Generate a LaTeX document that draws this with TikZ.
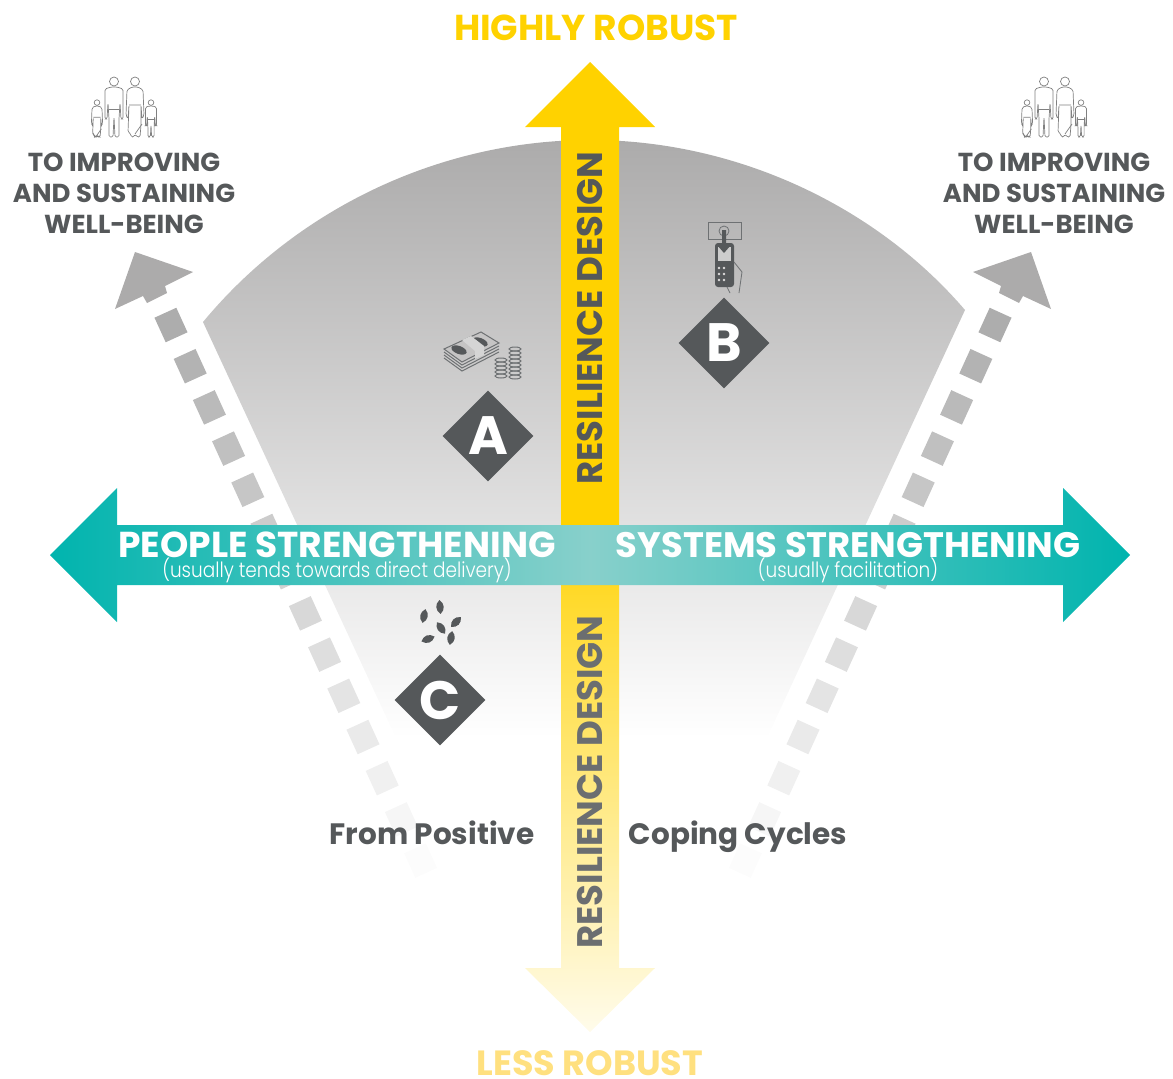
\documentclass[tikz,border=0pt]{standalone}
\usepackage{fontspec}
\usepackage{xcolor}
\usetikzlibrary{shapes.geometric}
\setmainfont{Poppins}
\newfontfamily\lightfont{Poppins Light}[FakeStretch=0.88]
\definecolor{slategray}{HTML}{55585A}
\definecolor{fadegray}{HTML}{6B6E70}
\definecolor{headgray}{HTML}{ACABAB}
\definecolor{robustyellow}{HTML}{FFD200}
\definecolor{paleyellow}{HTML}{FFE07F}
\definecolor{bandteal}{HTML}{00B4AE}
\definecolor{bandlight}{HTML}{88D0CB}
\tikzset{
    dashbox/.style={draw=none,rectangle,minimum width=24pt,minimum height=27pt,inner sep=0pt},
    markbox/.style={diamond,fill=slategray,text=white,minimum size=91pt,inner sep=0pt,aspect=1,font=\fontsize{54}{54}\selectfont\bfseries},
    goaltext/.style={align=center,text=slategray,font=\fontsize{26}{31}\selectfont\bfseries},
    axistext/.style={text=white,anchor=base,font=\fontsize{36}{36}\selectfont\bfseries},
    subtext/.style={text=white,font=\fontsize{21}{21}\selectfont\lightfont},
    designtext/.style={rotate=90,font=\fontsize{35.5}{36}\selectfont\bfseries},
    cycletext/.style={text=slategray,anchor=base,font=\fontsize{29.5}{31}\selectfont\bfseries},
    robusttext/.style={anchor=base,font=\fontsize{36}{36}\selectfont\bfseries},
    pics/grownman/.style={code={
        \draw[line width=.7pt,draw=gray] (0,-55.5) circle (4.5);
        \draw[line width=.7pt,draw=gray,rounded corners=1.5pt] (-3,-50) -- (-9,-48) -- (-9,-18) -- (-7,-18) -- (-6,-34) -- (-5,-18) -- (-5,0) -- (-1,0) -- (0,-20) -- (1,0) -- (5,0) -- (5,-18) -- (6,-34) -- (7,-18) -- (9,-18) -- (9,-48) -- (3,-50) -- cycle;
        \draw[line width=.7pt,draw=gray] (-5,-28) -- (5,-28);
    }},
    pics/grownwoman/.style={code={
        \draw[line width=.7pt,draw=gray] (0,-55.5) circle (4.5);
        \draw[line width=.7pt,draw=gray,rounded corners=1.5pt] (-3,-50) -- (-8,-47) -- (-9,-22) -- (-7,-18) -- (-6,-32) -- (-7,-5) -- (-4,-3) -- (-4,0) -- (-1,0) -- (0,-3) -- (2,0) -- (5,0) -- (6,-12) -- (6,-32) -- (7,-18) -- (9,-22) -- (8,-47) -- (3,-50) -- cycle;
        \draw[line width=.7pt,draw=gray] (-6,-32) -- (6,-32) (0,-3) -- (7,-13);
    }},
    pics/family/.style={code={
        \pic[scale=.62] at (-27,0) {grownwoman};
        \pic at (-10,0) {grownman};
        \pic at (11,0) {grownwoman};
        \pic[scale=.62] at (27,0) {grownman};
    }},
    pics/seedleaf/.style={code={
        \fill[slategray] (0,-7) .. controls (5,-3) and (5,3) .. (0,7) .. controls (-5,3) and (-5,-3) .. (0,-7) -- cycle;
    }},
}
\begin{document}
\begin{tikzpicture}[x=1pt,y=-1pt]
    \useasboundingbox (0,0) rectangle (1173,1079);
    % Fading wedge behind everything
    \shade[top color=headgray,bottom color=white] (203,322) .. controls (300,205) and (445,140) .. (590,140) .. controls (735,140) and (875,205) .. (965,310) -- (767,738) -- (396,738) -- cycle;
    % Dashed stems of the two side arrows
    \foreach \k in {0,...,13}{
        \pgfmathsetmacro\dashgray{32-31*\k/13}
        \node[dashbox,rotate=24.5,fill=black!\dashgray] (ldash\k) at ({171+19.2*\k},{325+41.2*\k}) {};
        \node[dashbox,rotate=-24.5,fill=black!\dashgray] (rdash\k) at ({995-19.2*\k},{325+41.2*\k}) {};
    }
    % Side arrow heads
    \fill[headgray] (135,252) -- (193,272) -- (165,286) -- (167,293) -- (147,303) -- (143,296) -- (115,309) -- cycle;
    \fill[headgray] (1031,252) -- (973,272) -- (1001,286) -- (999,293) -- (1019,303) -- (1023,296) -- (1051,309) -- cycle;
    % Vertical arrow, upper and lower half
    \fill[robustyellow] (561,527) -- (561,127) -- (525,127) -- (590,62) -- (655,127) -- (619,127) -- (619,527) -- cycle;
    \shade[top color=robustyellow!85!white,bottom color=robustyellow!8!white] (561,585) -- (561,968) -- (525,968) -- (590,1032) -- (655,968) -- (619,968) -- (619,585) -- cycle;
    % Horizontal arrow
    \shade[left color=bandteal,right color=bandteal,middle color=bandlight] (50,555) -- (117,488) -- (117,525) -- (1063,525) -- (1063,488) -- (1130,555) -- (1063,622) -- (1063,585) -- (117,585) -- (117,622) -- cycle;
    % Labels
    \node[robusttext,text=robustyellow] (hightext) at (596,40) {HIGHLY ROBUST};
    \node[robusttext,text=paleyellow,font=\fontsize{35}{35}\selectfont\bfseries] (lowtext) at (590,1075) {LESS ROBUST};
    \node[goaltext] (goalleft) at (124,193) {TO IMPROVING\\AND SUSTAINING\\WELL-BEING};
    \node[goaltext] (goalright) at (1054,193) {TO IMPROVING\\AND SUSTAINING\\WELL-BEING};
    \node[designtext,text=slategray] (designup) at (590,318) {RESILIENCE DESIGN};
    \node[designtext,text=fadegray] (designdown) at (590,782) {RESILIENCE DESIGN};
    \node[axistext] (peopletext) at (337,557) {PEOPLE STRENGTHENING};
    \node[axistext,font=\fontsize{35.4}{36}\selectfont\bfseries] (systemstext) at (848,557) {SYSTEMS STRENGTHENING};
    \node[subtext] (peoplesub) at (337,570) {(usually tends towards direct delivery)};
    \node[subtext] (systemssub) at (848,570) {(usually facilitation)};
    \node[cycletext] (fromtext) at (432,844) {From Positive};
    \node[cycletext] (copingtext) at (738,844) {Coping Cycles};
    % Diamonds
    \node[markbox] (marka) at (488,436) {A};
    \node[markbox] (markb) at (724,343) {B};
    \node[markbox] (markc) at (440,700) {C};
    % Families
    \pic at (124,137) {family};
    \pic at (1054,137) {family};
    % Money icon
    \foreach \dy in {9,6,3}{
        \draw[slategray!85,line width=1pt] (444,{349+\dy}) -- (462,{362+\dy}) -- (499,{343+\dy});
    }
    \draw[slategray!85,line width=1pt,fill=headgray!70] (444,349) -- (481,332) -- (499,343) -- (462,362) -- cycle;
    \fill[slategray,rotate around={-20:(459,350)}] (459,350) ellipse (8 and 4);
    \fill[slategray,rotate around={-20:(480,342)}] (480,342) ellipse (8 and 4);
    \fill[headgray!50] (462,340) -- (471,336) -- (484,346) -- (484,355) -- (475,359) -- (475,351) -- cycle;
    \foreach \cy in {360,364,368,372,376}{
        \draw[slategray!85,line width=1pt] (501,\cy) ellipse (6 and 2);
    }
    \foreach \cy in {349,353,357,361,365,369,373,377}{
        \draw[slategray!85,line width=1pt] (515,\cy) ellipse (6 and 2);
    }
    % Phone icon
    \draw[slategray!85,line width=.8pt] (708,222) rectangle (741,239);
    \draw[slategray!85,line width=.8pt] (724,231) circle (5);
    \fill[slategray,rounded corners=3pt] (715,243) rectangle (734,287);
    \fill[headgray!60] (718,247) rectangle (731,261);
    \fill[slategray] (722,230) -- (726,230) -- (726,245) -- (731,245) -- (724,253) -- (717,245) -- (722,245) -- cycle;
    \foreach \bx in {719,724}{
        \foreach \by in {268,274,280}{
            \fill[headgray!40] (\bx,\by) circle (1.4);
        }
    }
    \draw[slategray!85,line width=.8pt] (734,262) -- (742,272) -- (739,293);
    \draw[slategray!85,line width=.8pt] (727,287) -- (730,293);
    % Seeds
    \pic[rotate=5] at (440,607) {seedleaf};
    \pic[rotate=-12] at (424,616) {seedleaf};
    \pic[rotate=-45] at (456,622) {seedleaf};
    \pic[rotate=35] at (441,628) {seedleaf};
    \pic[rotate=-70] at (428,639) {seedleaf};
    \pic[rotate=-10] at (451,638) {seedleaf};
\end{tikzpicture}
\end{document}
